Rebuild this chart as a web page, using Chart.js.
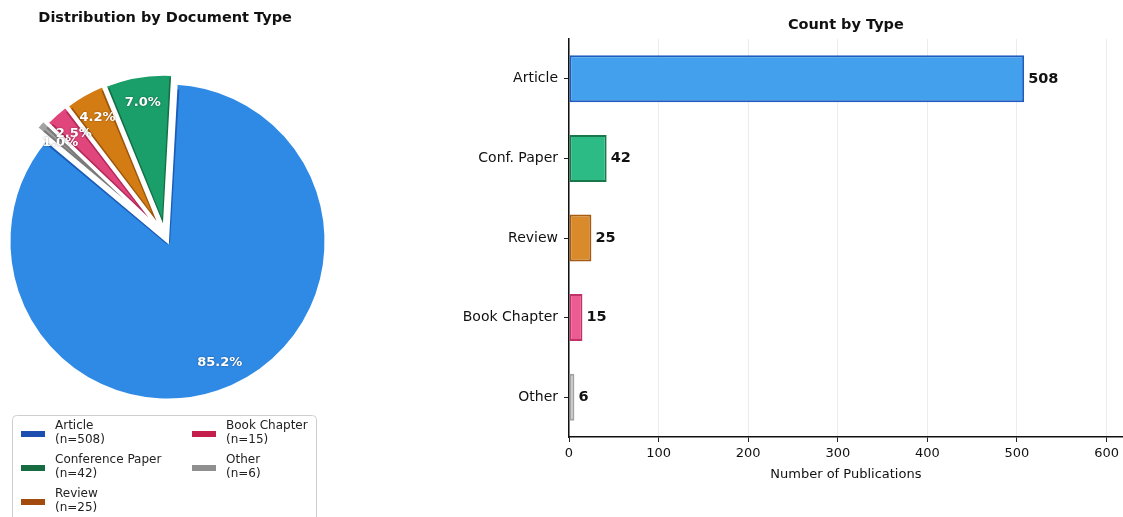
<!DOCTYPE html>
<html>
<head>
<meta charset="utf-8">
<script src="https://cdn.jsdelivr.net/npm/chart.js@4"></script>
<style>
  html, body { margin: 0; padding: 0; background: #fff; }
  #wrap    { position: relative; width: 1123px; height: 517px; overflow: hidden; }
  #pie-box { position: absolute; left: 0;     top: 0; width: 335px; height: 517px; }
  #bar-box { position: absolute; left: 440px; top: 0; width: 683px; height: 517px; }
</style>
</head>
<body>
<div id="wrap">
  <div id="pie-box"><canvas id="pie-chart" width="335" height="517"></canvas></div>
  <div id="bar-box"><canvas id="bar-chart" width="683" height="517"></canvas></div>
</div>
<script>
// ── Data ──────────────────────────────────────────────────────────────────────
const docTypes   = ['Article', 'Conference Paper', 'Review', 'Book Chapter', 'Other'];
const shortTypes = ['Article', 'Conf. Paper', 'Review', 'Book Chapter', 'Other'];
const docCounts  = [508, 42, 25, 15, 6];
const countTicks = [0, 100, 200, 300, 400, 500, 600];

// ── Palette ───────────────────────────────────────────────────────────────────
const pieFill = ['#2f8ae6', '#1a9e6a', '#d47c14', '#e0457c', '#a3a3a3'];
const pieEdge = ['#1a5cb8', '#136f45', '#9c560c', '#b32a5a', '#7a7a7a'];
const keyFill = ['#1d4fb0', '#166b40', '#a34a0e', '#c41f4c', '#8f8f8f'];
const barFill = ['#43a0ec', '#2dbb85', '#d98b2b', '#ec5c92', '#c9c9c9'];
const barEdge = ['#1f5cbf', '#18774b', '#a65a12', '#c0336a', '#a3a3a3'];

const FONT  = "'DejaVu Sans', sans-serif";
const INK   = '#111';
const total = docCounts.reduce((a, b) => a + b, 0);
const rev   = a => a.slice().reverse();   // pie runs clockwise, wedges go the other way

// where ArcElement.draw() really puts a wedge (shift = offset/4, radius grows too)
function arcGeom(arc) {
  const p = arc.getProps(['x', 'y', 'startAngle', 'endAngle', 'outerRadius']);
  const off  = (arc.options.offset || 0) / 4;
  const span = p.endAngle - p.startAngle;
  const mid  = (p.startAngle + p.endAngle) / 2;
  const fix  = 1 - Math.sin(Math.min(Math.PI, span));
  return {
    cx: p.x + Math.cos(mid) * off, cy: p.y + Math.sin(mid) * off,
    r: p.outerRadius + off * fix, s: p.startAngle, e: p.endAngle, mid
  };
}

// white separators round each wedge, then the % labels on top
const pieDecor = {
  id: 'pieDecor',
  afterDatasetsDraw(chart) {
    const ctx  = chart.ctx;
    const arcs = chart.getDatasetMeta(0).data;
    const vals = chart.data.datasets[0].data;
    ctx.save();
    ctx.strokeStyle = '#fff';
    ctx.lineWidth = 3;
    ctx.lineJoin = 'miter';
    arcs.forEach(arc => {
      const g = arcGeom(arc);
      ctx.beginPath();
      ctx.moveTo(g.cx, g.cy);
      ctx.arc(g.cx, g.cy, g.r, g.s, g.e);
      ctx.closePath();
      ctx.stroke();
    });
    ctx.font = `bold 13px ${FONT}`;
    ctx.textAlign = 'center';
    ctx.textBaseline = 'middle';
    ctx.fillStyle = '#fff';
    ctx.shadowColor = 'rgba(0,0,0,0.45)';
    ctx.shadowBlur = 2;
    arcs.forEach((arc, i) => {
      const g = arcGeom(arc);
      const d = g.r * 0.83;
      ctx.fillText((vals[i] / total * 100).toFixed(1) + '%', g.cx + Math.cos(g.mid) * d, g.cy + Math.sin(g.mid) * d);
    });
    ctx.restore();
  }
};

// two-column key under the pie, filled column by column
const pieKey = {
  id: 'pieKey',
  afterDraw(chart) {
    const ctx = chart.ctx;
    ctx.save();
    ctx.strokeStyle = '#cfcfcf';
    ctx.lineWidth = 1;
    ctx.beginPath();
    ctx.roundRect(12.5, 415.5, 304, 130, 4);
    ctx.stroke();
    ctx.font = `12px ${FONT}`;
    ctx.textBaseline = 'middle';
    docTypes.forEach((name, i) => {
      const col = Math.floor(i / 3), row = i % 3;
      const x = col ? 192 : 21, y = 426 + row * 34;
      ctx.fillStyle = keyFill[i];
      ctx.fillRect(x, y + 5, 24, 6);
      ctx.fillStyle = '#222';
      ctx.fillText(name, x + 34, y);
      ctx.fillText(`(n=${docCounts[i]})`, x + 34, y + 13.5);
    });
    ctx.restore();
  }
};

// count printed just past the end of each bar
const barValues = {
  id: 'barValues',
  afterDatasetsDraw(chart) {
    const ctx = chart.ctx;
    ctx.save();
    ctx.font = `bold 14.5px ${FONT}`;
    ctx.fillStyle = INK;
    ctx.textBaseline = 'middle';
    chart.getDatasetMeta(0).data.forEach((bar, i) => {
      ctx.fillText(String(docCounts[i]), bar.x + 4, bar.y);
    });
    ctx.restore();
  }
};

// ── Pie ───────────────────────────────────────────────────────────────────────
new Chart(document.getElementById('pie-chart'), {
  type: 'pie',
  data: {
    labels: rev(docTypes),
    datasets: [{
      data: rev(docCounts),
      backgroundColor: rev(pieFill),
      borderColor: rev(pieEdge),
      borderWidth: 2.6, borderAlign: 'inner',
      offset: [32, 24, 24, 24, 24]
    }]
  },
  options: {
    responsive: false, animation: false, events: [],
    rotation: -50, radius: 152.5, clip: false,
    layout: { padding: { left: 0, right: 4.8, top: 0, bottom: 82.4 } },
    plugins: {
      legend: { display: false },
      tooltip: { enabled: false },
      title: {
        display: true, text: 'Distribution by Document Type', color: INK,
        font: { family: FONT, size: 14.5, weight: 'bold' },
        padding: { top: 10, bottom: 10 }
      }
    }
  },
  plugins: [pieDecor, pieKey]
});

// ── Horizontal bars ───────────────────────────────────────────────────────────
new Chart(document.getElementById('bar-chart'), {
  type: 'bar',
  data: {
    labels: shortTypes,
    datasets: [{
      data: docCounts,
      backgroundColor: barFill, borderColor: barEdge,
      borderWidth: 2, borderSkipped: false,
      barPercentage: 0.59, categoryPercentage: 1
    }]
  },
  options: {
    indexAxis: 'y',
    responsive: false, animation: false, events: [],
    layout: { padding: 0 },
    plugins: {
      legend: { display: false },
      tooltip: { enabled: false },
      title: {
        display: true, fullSize: false, text: 'Count by Type', color: INK,
        font: { family: FONT, size: 14.5, weight: 'bold' },
        padding: { top: 16.3, bottom: 5.3 }
      }
    },
    scales: {
      x: {
        min: 0, max: 618,
        afterBuildTicks: s => { s.ticks = countTicks.map(v => ({ value: v })); },
        afterFit: s => { s.height = 80; },
        grid: { color: '#ececec', lineWidth: 1, tickColor: '#222', tickLength: 5 },
        border: { color: INK, width: 1.5 },
        ticks: { font: { family: FONT, size: 13 }, color: INK, padding: 4, maxRotation: 0 },
        title: {
          display: true, text: 'Number of Publications', color: INK,
          font: { family: FONT, size: 13 }, padding: { top: 4, bottom: 35 }
        }
      },
      y: {
        afterFit: s => { s.width = 129; },
        grid: { offset: false, drawOnChartArea: false, tickColor: '#222', tickLength: 5 },
        border: { color: INK, width: 1.5 },
        ticks: { font: { family: FONT, size: 14 }, color: INK, padding: 6 }
      }
    }
  },
  plugins: [barValues]
});
</script>
</body>
</html>
